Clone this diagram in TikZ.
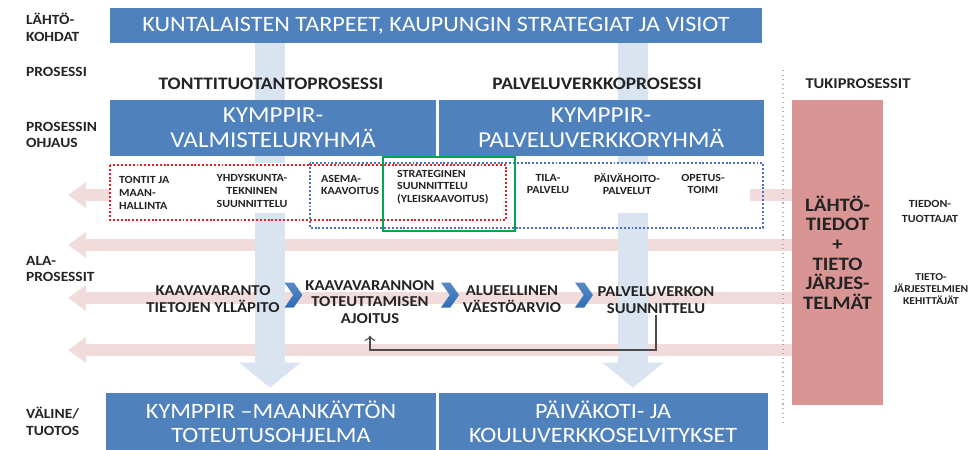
\documentclass[tikz,border=0pt]{standalone}
\usepackage{fontspec}
\setmainfont{Carlito}[FakeStretch=1.1]
\usetikzlibrary{
  arrows.meta,
  positioning,
  shapes.symbols,
  backgrounds,
  calc
}
\definecolor{boxblue}{RGB}{79,129,189}
\definecolor{shaftblue}{RGB}{218,228,241}
\definecolor{flowpink}{RGB}{242,220,219}
\definecolor{tukired}{RGB}{217,149,148}
\definecolor{chevblue}{RGB}{46,109,182}
\definecolor{framegreen}{RGB}{0,166,81}
\definecolor{framered}{RGB}{235,30,35}
\definecolor{frameblue}{RGB}{75,110,190}
\definecolor{txtgray}{RGB}{35,35,35}
\tikzset{
  bigbox/.style={
    rectangle, fill=boxblue, text=white, inner sep=0pt,
    align=center, font=\fontsize{12.5}{14.5}\selectfont
  },
  rowlabel/.style={
    anchor=west, align=left, text=txtgray,
    font=\fontsize{8}{9.5}\selectfont\bfseries
  },
  header/.style={font=\fontsize{10}{12}\selectfont\bfseries, text=txtgray},
  unit/.style={
    align=center, inner sep=1pt, text=txtgray,
    font=\fontsize{6.2}{7.2}\selectfont\bfseries
  },
  subproc/.style={
    align=center, inner sep=1pt, text=txtgray,
    font=\fontsize{8.6}{9.4}\selectfont\bfseries
  },
  sidelabel/.style={
    align=center, inner sep=1pt, text=txtgray,
    font=\fontsize{6}{7}\selectfont\bfseries
  },
  chevron/.style={
    signal, signal from=west, signal to=east, signal pointer angle=110,
    top color=chevblue!80, bottom color=chevblue, draw=none,
    minimum width=0.36cm, minimum height=0.5cm, inner sep=0pt
  },
  pinkarrow/.style={draw=flowpink, line width=0.24cm,
    -{Triangle[length=0.36cm, width=0.5cm]}},
  shaft/.style={draw=shaftblue, line width=0.6cm},
  downarrow/.style={shaft, -{Triangle[length=0.5cm, width=1.2cm]}},
  dotframe/.style={line width=1.1pt, dash pattern=on 1.1pt off 1.1pt},
  feedback/.style={draw=black!70, line width=0.6pt, -{To[length=3pt]}},
}

\begin{document}
\begin{tikzpicture}[x=0.02cm, y=-0.02cm]
  \useasboundingbox (0,0) rectangle (975,450);

  %% ── Row labels ──
  \node[rowlabel] (lahto) at (20,27)  {LÄHTÖ-\\KOHDAT};
  \node[rowlabel] (pros)  at (20,72)  {PROSESSI};
  \node[rowlabel] (ohj)   at (20,135) {PROSESSIN\\OHJAUS};
  \node[rowlabel] (ala)   at (20,269) {ALA-\\PROSESSIT};
  \node[rowlabel] (vali)  at (20,421) {VÄLINE/\\TUOTOS};

  %% ── Starting points ──
  \node[bigbox, minimum width=13.04cm, minimum height=0.7cm]
  (start) at (436,25.5) {KUNTALAISTEN TARPEET, KAUPUNGIN STRATEGIAT JA VISIOT};

  %% ── Process headers ──
  \node[header] (tontti) at (271,84) {TONTTITUOTANTOPROSESSI};
  \node[header] (palv)   at (597,84) {PALVELUVERKKOPROSESSI};
  \node[header, font=\fontsize{8.5}{10}\selectfont\bfseries]
  (tukih) at (858,84) {TUKIPROSESSIT};

  %% ── Steering groups ──
  \node[bigbox, minimum width=6.52cm, minimum height=1.12cm,
    font=\fontsize{13}{14.5}\selectfont]
  (valm) at (273,128) {KYMPPIR-\\VALMISTELURYHMÄ};
  \node[bigbox, minimum width=6.5cm, minimum height=1.12cm,
    font=\fontsize{13}{14.5}\selectfont, right=0.04cm of valm]
  (pvr) {KYMPPIR-\\PALVELUVERKKORYHMÄ};

  %% ── Outputs ──
  \node[bigbox, minimum width=6.6cm, minimum height=1.14cm,
    font=\fontsize{12.5}{13.5}\selectfont]
  (mko) at (271,421.5) {KYMPPIR –MAANKÄYTÖN\\TOTEUTUSOHJELMA};
  \node[bigbox, minimum width=6.58cm, minimum height=1.14cm,
    font=\fontsize{12.5}{13.5}\selectfont, right=0.04cm of mko]
  (pkv) {PÄIVÄKOTI- JA\\KOULUVERKKOSELVITYKSET};

  %% ── Support processes ──
  \node[fill=tukired, minimum width=1.82cm, minimum height=6.1cm, inner sep=0pt,
    align=center, text=txtgray, font=\fontsize{10.8}{11.2}\selectfont\bfseries]
  (tuki) at (837.5,252.5) {LÄHTÖ-\\TIEDOT\\+\\TIETO\\JÄRJES-\\TELMÄT};
  \node[sidelabel, font=\fontsize{6.2}{8.5}\selectfont\bfseries]
  (tiedon) at (930,211) {TIEDON-\\TUOTTAJAT};
  \node[sidelabel] (kehit) at (931,289) {TIETO-\\JÄRJESTELMIEN\\KEHITTÄJÄT};

  %% ── Units ──
  \node[unit, anchor=west, align=left] (tontit) at (117,193)
  {TONTIT JA\\MAAN-\\HALLINTA};
  \node[unit] (yhd)   at (252,191) {YHDYSKUNTA-\\TEKNINEN\\SUUNNITTELU};
  \node[unit, anchor=west, align=left] (asema) at (319,185) {ASEMA-\\KAAVOITUS};
  \node[unit, anchor=west, align=left] (strat) at (395,187)
  {STRATEGINEN\\SUUNNITTELU\\(YLEISKAAVOITUS)};
  \node[unit] (tila)  at (548,184) {TILA-\\PALVELU};
  \node[unit] (paiv)  at (627,184) {PÄIVÄHOITO-\\PALVELUT};
  \node[unit] (opet)  at (703,184) {OPETUS-\\TOIMI};

  %% ── Sub-processes ──
  \node[subproc] (kvr) at (213,299) {KAAVAVARANTO\\TIETOJEN YLLÄPITO};
  \node[chevron] (c1)  at (293.5,295) {};
  \node[subproc] (kvt) at (370,302) {KAAVAVARANNON\\TOTEUTTAMISEN\\AJOITUS};
  \node[chevron] (c2)  at (450,295) {};
  \node[subproc] (alu) at (512,299) {ALUEELLINEN\\VÄESTÖARVIO};
  \node[chevron] (c3)  at (584,295) {};
  \node[subproc] (pvs) at (656,300) {PALVELUVERKON\\SUUNNITTELU};

  %% ── Frames ──
  \draw[dotframe, frameblue] (310,163) rectangle (763,228);
  \draw[dotframe, framered]  (110,165) rectangle (506,220);
  \draw[framegreen, line width=1.3pt] (383,157) rectangle (515,231);
  \draw[gray!60, dotted, line width=0.6pt] (783,70) -- (783,422);

  %% ── Feedback ──
  \coordinate (fbturn) at (0,350);
  \draw[feedback, shorten >=0.2cm]
  (pvs.south) -- (pvs.south |- fbturn) -| (kvt.south);

  %% ── Flows behind ──
  \coordinate (a1) at (270,0);
  \coordinate (a2) at (633,0);
  \coordinate (p1) at (68,195);
  \coordinate (p2) at (68,245);
  \coordinate (p3) at (68,298);
  \coordinate (p4) at (68,350);
  \begin{scope}[on background layer]
    \foreach \p in {p1,p2,p3,p4}
      \draw[pinkarrow] (tuki.west |- \p) -- (\p);
    \foreach \a in {a1,a2} {
      \draw[shaft] (start.south -| \a) -- (valm.north -| \a);
      \draw[downarrow, shorten >=0.1cm] (valm.south -| \a) -- (mko.north -| \a);
    }
    \fill[white] (110,163) rectangle (750,213);
  \end{scope}
\end{tikzpicture}
\end{document}
